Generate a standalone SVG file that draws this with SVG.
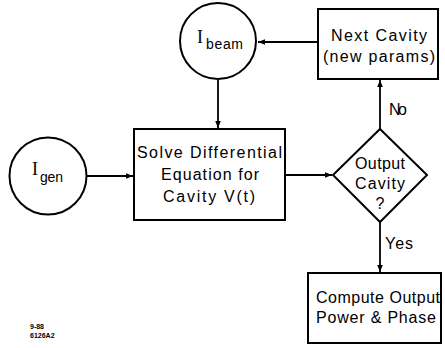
<svg xmlns="http://www.w3.org/2000/svg" width="445" height="348" viewBox="0 0 445 348">
<defs>
<style>
.s{fill:#fff;stroke:#000;stroke-width:2}
.c{fill:none;stroke:#000;stroke-width:1.8}
text{font-family:"Liberation Sans",Arial,sans-serif;font-size:16px;fill:#000}
.m{text-anchor:middle}
.i{font-family:"Liberation Serif","Times New Roman",serif;font-size:18px}
.sub{font-size:14px}
.sm{font-size:7px;font-weight:bold}
</style>
<marker id="a" viewBox="0 0 10 10" refX="10" refY="5" markerWidth="7" markerHeight="7" markerUnits="userSpaceOnUse" orient="auto">
<path d="M0,1 L10,5 L0,9 Z" fill="#000"/>
</marker>
</defs>
<rect width="445" height="348" fill="#fff"/>
<g id="connectors">
<line class="c" x1="318" y1="42" x2="258" y2="42" marker-end="url(#a)"/>
<line class="c" x1="218" y1="80" x2="218" y2="128" marker-end="url(#a)"/>
<line class="c" x1="87" y1="176" x2="133" y2="176" marker-end="url(#a)"/>
<line class="c" x1="285" y1="175" x2="332" y2="175" marker-end="url(#a)"/>
<line class="c" x1="380" y1="129" x2="380" y2="80" marker-end="url(#a)"/>
<line class="c" x1="380" y1="222" x2="380" y2="272" marker-end="url(#a)"/>
<text x="389" y="115" textLength="18" lengthAdjust="spacing">No</text>
<text x="385" y="249" textLength="28" lengthAdjust="spacing">Yes</text>
</g>
<g id="ibeam">
<circle class="s" cx="218" cy="41" r="38"/>
<text class="i" x="197" y="43">I</text><text class="sub" x="206" y="49" textLength="37" lengthAdjust="spacing">beam</text>
</g>
<g id="next">
<rect class="s" x="318" y="9" width="120" height="70"/>
<text x="331" y="41" textLength="96" lengthAdjust="spacing">Next Cavity</text>
<text x="323" y="62" textLength="112" lengthAdjust="spacing">(new params)</text>
</g>
<g id="igen">
<circle class="s" cx="48" cy="176" r="38.5"/>
<text class="i" x="32" y="175">I</text><text class="sub" x="40" y="182" textLength="23" lengthAdjust="spacing">gen</text>
</g>
<g id="solve">
<rect class="s" x="134" y="129" width="151" height="91"/>
<text x="137" y="158" textLength="145" lengthAdjust="spacing">Solve Differential</text>
<text x="161" y="180" textLength="98" lengthAdjust="spacing">Equation for</text>
<text x="163" y="202" textLength="92" lengthAdjust="spacing">Cavity  V(t)</text>
</g>
<g id="decision">
<polygon class="s" points="380,129 427,175 380,222 333,175"/>
<text x="355" y="169" textLength="50" lengthAdjust="spacing">Output</text>
<text x="355" y="189" textLength="50" lengthAdjust="spacing">Cavity</text>
<text class="m" x="380" y="209">?</text>
</g>
<g id="compute">
<rect class="s" x="308" y="273" width="133" height="70"/>
<text x="316" y="303" textLength="124" lengthAdjust="spacing">Compute Output</text>
<text x="316" y="323" textLength="120" lengthAdjust="spacing">Power &amp; Phase</text>
</g>
<text class="sm" x="30" y="329">9-88</text>
<text class="sm" x="30" y="338">6126A2</text>
</svg>
